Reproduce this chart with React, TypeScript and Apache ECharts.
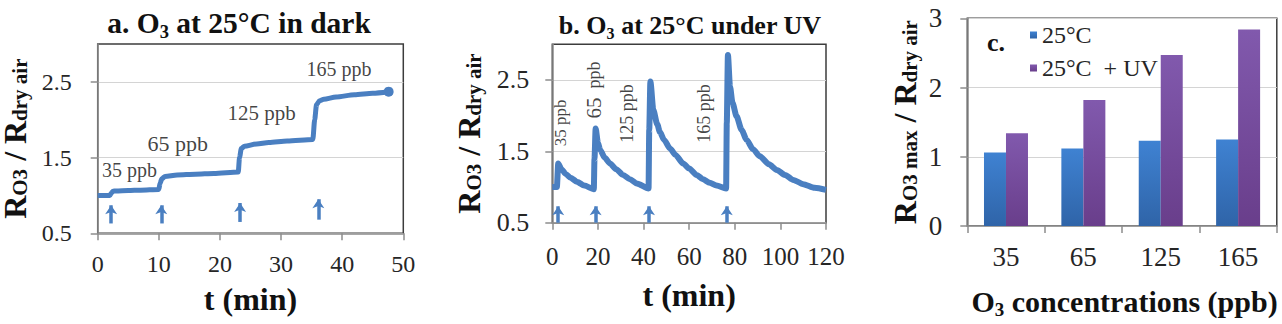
import React, { useEffect, useRef } from 'react';
import * as echarts from 'echarts';

const SERIF = 'Liberation Serif';
const LINE_BLUE = '#4a7fc1';

// (a) O3 response at 25 °C in dark: time (min) and R_O3 / R_dry air
const darkTime = [0, 2.0, 2.2, 2.5, 3, 5, 7, 10.0, 10.2, 10.5, 11, 13, 16, 19, 23.0, 23.2, 23.5, 24, 26, 28, 31, 35.2, 35.5, 35.8, 36.3, 37, 39, 42, 45, 47.6];
const darkRatio = [1.0, 1.0, 1.03, 1.055, 1.06, 1.065, 1.07, 1.08, 1.16, 1.22, 1.25, 1.27, 1.28, 1.29, 1.31, 1.5, 1.62, 1.65, 1.68, 1.70, 1.72, 1.74, 2.0, 2.2, 2.25, 2.27, 2.30, 2.33, 2.35, 2.37];
// injection arrows (time, foot, tip)
const darkArrowTime = [2.2, 10.4, 23.3, 36.1];
const darkArrowFrom = [0.63, 0.63, 0.65, 0.68];
const darkArrowTo = [0.87, 0.87, 0.9, 0.95];
// concentration annotations
const darkLabelText = ['35 ppb', '65 ppb', '125 ppb', '165 ppb'];
const darkLabelTime = [5.2, 13.1, 26.8, 39.5];
const darkLabelRatio = [1.34, 1.69, 2.085, 2.67];

// (b) O3 response at 25 °C under UV
const uvTime = [0, 2.0, 2.6, 4, 6, 8, 11, 14, 18.2, 18.5, 19.0, 20, 21, 23, 25.3, 28, 31, 34, 37, 42.2, 42.5, 43.0, 44.3, 46, 47.2, 49, 51.6, 54, 57.4, 60, 63.3, 66, 69, 72, 76.2, 76.5, 77.0, 77.9, 79, 80.8, 83, 85.2, 88, 91, 95, 98.4, 102, 105.7, 110, 115, 120];
const uvRatio = [1.0, 1.0, 1.33, 1.25, 1.18, 1.13, 1.07, 1.02, 0.97, 1.4, 1.82, 1.62, 1.52, 1.41, 1.33, 1.25, 1.17, 1.11, 1.05, 0.98, 1.8, 2.48, 2.08, 1.88, 1.77, 1.66, 1.54, 1.45, 1.33, 1.26, 1.17, 1.11, 1.06, 1.02, 0.98, 1.9, 2.85, 2.41, 2.18, 1.99, 1.80, 1.66, 1.53, 1.43, 1.32, 1.24, 1.17, 1.10, 1.04, 0.99, 0.96];
const uvArrowTime = [2.6, 19, 42.4, 76.5];
const uvArrowFrom = [0.5, 0.5, 0.5, 0.5];
const uvArrowTo = [0.73, 0.73, 0.73, 0.73];
const uvLabelText = ['35 ppb', '65  ppb', '125 ppb', '165 ppb'];
const uvLabelTime = [3.8, 18.3, 32.6, 66.5];
const uvLabelRatio = [1.9, 2.36, 2.03, 2.03];

// (c) maximum response vs O3 concentration
const concCategories = ['35', '65', '125', '165'];
const seriesNames = ['25°C', '25°C  + UV'];
const maxDark = [1.06, 1.12, 1.23, 1.25];
const maxUV = [1.34, 1.82, 2.47, 2.84];

const ratioTicks = [0.5, 1.5, 2.5];

const darkLabelSize = [20, 22, 21, 20];

const AXIS_GRAY = '#8c8c8c';
const FRAME = '#3c3c3c';
const SPLIT = '#d4d4d4';
const TICK_TEXT = '#262626';

function yRatioName(gap: number, sub1: string) {
  return {
    name: `{m|R}{s|${sub1}}{m| / R}{s|dry air}`,
    nameLocation: 'middle' as const,
    nameRotate: 90,
    nameGap: gap,
    nameTextStyle: {
      rich: {
        m: { fontFamily: SERIF, fontWeight: 'bold', fontSize: 32, lineHeight: 30, color: '#111', verticalAlign: 'middle' },
        s: { fontFamily: SERIF, fontWeight: 'bold', fontSize: 21, lineHeight: 16, color: '#111', verticalAlign: 'bottom' },
      },
    },
  };
}

function xTitle(text: string, gap: number) {
  return {
    name: text,
    nameLocation: 'middle' as const,
    nameGap: gap,
    nameTextStyle: { fontFamily: SERIF, fontWeight: 'bold', fontSize: 32, color: '#111' },
  };
}

const axisLine = { show: true, onZero: false, lineStyle: { color: AXIS_GRAY, width: 1.5 } };
const axisTick = { show: true, length: 7, lineStyle: { color: AXIS_GRAY, width: 1.5 } };
const splitLine = { show: true, lineStyle: { color: SPLIT, width: 1 } };

function gridBox(left: number, top: number, width: number, height: number) {
  return {
    left, top, width, height,
    show: true,
    borderColor: FRAME,
    borderWidth: 1.5,
    backgroundColor: 'rgba(0,0,0,0)',
    containLabel: false,
    outerBoundsMode: 'none',
  };
}

function arrows(times: number[], from: number[], to: number[]) {
  return {
    silent: true,
    symbol: ['none', 'arrow'],
    symbolSize: [9, 9],
    label: { show: false },
    lineStyle: { color: LINE_BLUE, width: 3.5, type: 'solid' },
    data: times.map((t, i) => [{ coord: [t, from[i]] }, { coord: [t, to[i]] }]),
  };
}

function buildOption() {
  const darkData: any[] = darkTime.map((t, i) => [t, darkRatio[i]]);
  const last = darkData.length - 1;
  darkData[last] = { value: darkData[last], symbol: 'circle', symbolSize: 10 };

  return {
    animation: false,
    grid: [
      gridBox(97.7, 44, 305.6, 189.3),
      gridBox(552.3, 44.3, 273.7, 178.4),
      gridBox(967.3, 18.3, 309.5, 207.7),
    ],
    xAxis: [
      {
        gridIndex: 0, type: 'value', min: 0, max: 50, interval: 10,
        axisLine, axisTick, splitLine: { show: false },
        axisLabel: { margin: 19, fontFamily: SERIF, fontSize: 24, color: TICK_TEXT },
        ...xTitle('t (min)', 50),
      },
      {
        gridIndex: 1, type: 'value', min: 0, max: 120, interval: 20,
        axisLine, axisTick, splitLine: { show: false },
        axisLabel: { margin: 21, fontFamily: SERIF, fontSize: 25, color: TICK_TEXT },
        ...xTitle('t (min)', 56),
      },
      {
        gridIndex: 2, type: 'category', data: concCategories,
        axisLine, axisTick: { ...axisTick, alignWithLabel: false }, splitLine: { show: false },
        axisLabel: { margin: 17, fontFamily: SERIF, fontSize: 27, color: TICK_TEXT },
        name: '{m|O}{s|3}{m| concentrations (ppb)}',
        nameLocation: 'middle', nameGap: 57,
        nameTextStyle: {
          padding: [0, 0, 0, 5],
          rich: {
            m: { fontFamily: SERIF, fontWeight: 'bold', fontSize: 30, lineHeight: 36, color: '#111', verticalAlign: 'middle' },
            s: { fontFamily: SERIF, fontWeight: 'bold', fontSize: 19, lineHeight: 19, color: '#111', verticalAlign: 'bottom' },
          },
        },
      },
    ],
    yAxis: [
      {
        gridIndex: 0, type: 'value', min: 0.5, max: 3,
        axisLine, axisTick: { ...axisTick, customValues: ratioTicks }, splitLine,
        axisLabel: { customValues: ratioTicks, margin: 26, fontFamily: SERIF, fontSize: 24, color: TICK_TEXT, formatter: (v: number) => v.toFixed(1) },
        ...yRatioName(67.5, 'O3'),
      },
      {
        gridIndex: 1, type: 'value', min: 0.5, max: 3,
        axisLine, axisTick: { ...axisTick, customValues: ratioTicks }, splitLine,
        axisLabel: { customValues: ratioTicks, margin: 23, fontFamily: SERIF, fontSize: 26, color: TICK_TEXT, formatter: (v: number) => v.toFixed(1) },
        ...yRatioName(68, 'O3'),
      },
      {
        gridIndex: 2, type: 'value', min: 0, max: 3, interval: 1,
        axisLine, axisTick, splitLine,
        axisLabel: { margin: 25, fontFamily: SERIF, fontSize: 27, color: TICK_TEXT },
        ...yRatioName(47, 'O3 max'),
      },
    ],
    legend: {
      data: seriesNames,
      orient: 'vertical',
      left: 1030,
      top: 23,
      padding: 0,
      icon: 'rect',
      itemWidth: 7,
      itemHeight: 7,
      itemGap: 9,
      selectedMode: false,
      textStyle: { fontFamily: SERIF, fontSize: 24, lineHeight: 24, color: TICK_TEXT },
    },
    graphic: [
      {
        type: 'text', x: 239, y: 23, z: 10,
        style: {
          text: '{m|a. O}{s|3}{m| at 25°C in dark}',
          align: 'center', verticalAlign: 'middle',
          rich: {
            m: { fontFamily: SERIF, fontWeight: 'bold', fontSize: 29.5, lineHeight: 36, fill: '#111', verticalAlign: 'middle' },
            s: { fontFamily: SERIF, fontWeight: 'bold', fontSize: 18.5, lineHeight: 18, fill: '#111', verticalAlign: 'bottom' },
          },
        },
      },
      {
        type: 'text', x: 690, y: 25, z: 10,
        style: {
          text: '{m|b. O}{s|3}{m| at 25°C under UV}',
          align: 'center', verticalAlign: 'middle',
          rich: {
            m: { fontFamily: SERIF, fontWeight: 'bold', fontSize: 26, lineHeight: 32, fill: '#111', verticalAlign: 'middle' },
            s: { fontFamily: SERIF, fontWeight: 'bold', fontSize: 16, lineHeight: 16, fill: '#111', verticalAlign: 'bottom' },
          },
        },
      },
      {
        type: 'text', x: 996, y: 42, z: 10,
        style: {
          text: 'c.', align: 'center', verticalAlign: 'middle',
          fontFamily: SERIF, fontWeight: 'bold', fontSize: 26, fill: '#111',
        },
      },
    ],
    series: [
      {
        type: 'line', xAxisIndex: 0, yAxisIndex: 0,
        data: darkData,
        symbol: 'none', showSymbol: true,
        smooth: 0.25, smoothMonotone: 'x',
        lineStyle: { color: LINE_BLUE, width: 5 },
        itemStyle: { color: LINE_BLUE },
        z: 3,
        markLine: arrows(darkArrowTime, darkArrowFrom, darkArrowTo),
      },
      {
        type: 'scatter', xAxisIndex: 0, yAxisIndex: 0, silent: true,
        symbolSize: 1, itemStyle: { color: 'rgba(0,0,0,0)' },
        data: darkLabelTime.map((t, i) => ({ value: [t, darkLabelRatio[i]], label: { fontSize: darkLabelSize[i] } })),
        label: {
          show: true, position: 'inside', fontFamily: SERIF, color: '#111',
          formatter: (p: any) => darkLabelText[p.dataIndex],
        },
        z: 5,
      },
      {
        type: 'line', xAxisIndex: 1, yAxisIndex: 1,
        data: uvTime.map((t, i) => [t, uvRatio[i]]),
        showSymbol: false,
        smooth: 0.25, smoothMonotone: 'x',
        lineStyle: { color: LINE_BLUE, width: 6 },
        itemStyle: { color: LINE_BLUE },
        z: 3,
        markLine: arrows(uvArrowTime, uvArrowFrom, uvArrowTo),
      },
      {
        type: 'scatter', xAxisIndex: 1, yAxisIndex: 1, silent: true,
        symbolSize: 1, itemStyle: { color: 'rgba(0,0,0,0)' },
        data: uvLabelTime.map((t, i) => [t, uvLabelRatio[i]]),
        label: {
          show: true, position: 'inside', rotate: 90, fontFamily: SERIF, fontSize: 18, color: '#111',
          formatter: (p: any) => {
            const txt = uvLabelText[p.dataIndex];
            const m = txt.match(/^(\d+)(.*)$/);
            if (p.dataIndex === 1 && m) return `{big|${m[1]}}{n|${m[2]}}`;
            if (p.dataIndex === 0) return `{small|${txt}}`;
            return txt;
          },
          rich: {
            big: { fontFamily: SERIF, fontSize: 21, color: '#111' },
            n: { fontFamily: SERIF, fontSize: 18, color: '#111' },
            small: { fontFamily: SERIF, fontSize: 17, color: '#111' },
          },
        },
        z: 5,
      },
      {
        type: 'bar', name: seriesNames[0], xAxisIndex: 2, yAxisIndex: 2,
        data: maxDark, barWidth: 22, barGap: '0%',
        itemStyle: {
          color: new echarts.graphic.LinearGradient(0, 0, 0, 1, [
            { offset: 0, color: '#3f82d2' },
            { offset: 1, color: '#2f64a8' },
          ]),
        },
      },
      {
        type: 'bar', name: seriesNames[1], xAxisIndex: 2, yAxisIndex: 2,
        data: maxUV, barWidth: 22, barGap: '0%',
        itemStyle: {
          color: new echarts.graphic.LinearGradient(0, 0, 0, 1, [
            { offset: 0, color: '#8159ad' },
            { offset: 1, color: '#693e8b' },
          ]),
        },
      },
    ],
  };
}

export default function App() {
  const ref = useRef<HTMLDivElement>(null);
  useEffect(() => {
    if (!ref.current) return;
    const chart = echarts.init(ref.current, undefined, { renderer: 'svg' });
    chart.setOption(buildOption() as any);
    return () => chart.dispose();
  }, []);
  return (
    <div
      ref={ref}
      style={{ position: 'absolute', left: 0, top: 0, width: 1282, height: 324, background: '#fff' }}
    />
  );
}
